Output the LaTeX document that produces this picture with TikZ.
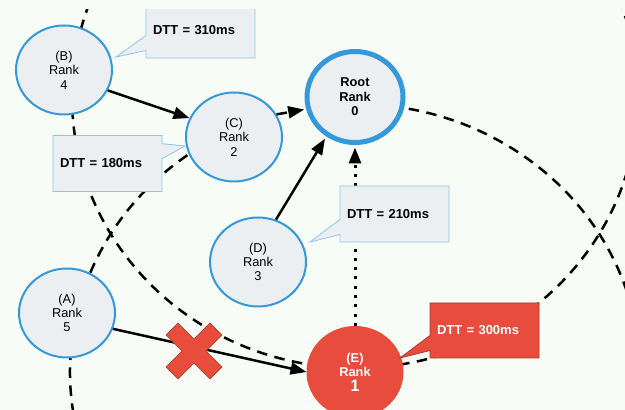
\documentclass[tikz,border=0pt]{standalone}
\usepackage{fontspec}
\setmainfont{Liberation Sans}
\usetikzlibrary{shapes.geometric,shapes.callouts,arrows.meta}

\definecolor{paper}{HTML}{F7FDF6}
\definecolor{cloud}{HTML}{ECEFF2}
\definecolor{rankblue}{HTML}{3498DB}
\definecolor{tipblue}{HTML}{8CC4EC}
\definecolor{alarm}{HTML}{E74C3C}
\definecolor{alarmdark}{HTML}{B03A2E}

\begin{document}
\begin{tikzpicture}[x=1pt,y=1pt,
  rank/.style={ellipse, draw=rankblue, line width=2pt, fill=cloud,
    minimum width=96pt, minimum height=89pt, inner sep=0pt, align=center,
    font=\fontsize{12.8}{14.4}\selectfont},
  rootrank/.style={rank, line width=5pt, minimum width=96pt, minimum height=91pt,
    font=\bfseries\fontsize{12.8}{14.5}\selectfont},
  failrank/.style={rank, draw=alarm, fill=alarm, line width=1pt,
    minimum width=96pt, minimum height=91pt, text=white,
    font=\bfseries\fontsize{12.8}{14.5}\selectfont},
  orbit/.style={line width=2.5pt, dash pattern=on 10.5pt off 7.5pt},
  link/.style={line width=2.5pt, -{Triangle[length=16pt,width=12pt]}},
  dtt/.style={rectangle callout, callout pointer width=15pt, fill=cloud,
    draw=tipblue, line width=0.8pt, minimum width=109pt, minimum height=56pt,
    text width=95pt, inner xsep=7pt, align=left,
    font=\bfseries\fontsize{13}{15}\selectfont},
  dttalert/.style={dtt, fill=alarm, draw=alarmdark, text=white},
]
\fill[paper] (0,0) rectangle (625,410);
\useasboundingbox (0,0) rectangle (625,410);

\begin{scope}
\clip (0,0) rectangle (625,400);
\coordinate (rootC) at (355,313);
\coordinate (eC) at (355,38);

% reach of the root
\draw[orbit] (rootC) ellipse [x radius=283pt, y radius=271pt];
% reach of rank 1
\draw[orbit] (eC) ++(115:285pt and 268pt)
  arc[start angle=115, end angle=195, x radius=285pt, y radius=268pt];
\draw[orbit] (eC) ++(90:285pt and 268pt)
  arc[start angle=90, end angle=5, x radius=285pt, y radius=268pt];

% ranks
\node[rank] (B) at (64,340) {(B)\\Rank\\4};
\node[rank] (C) at (234,273) {(C)\\Rank\\2};
\node[rootrank] (Root) at (rootC) {Root\\Rank\\0};
\node[rank] (D) at (258,148) {(D)\\Rank\\3};
\node[rank] (A) at (67,97) {(A)\\Rank\\5};
\node[failrank] (E) at (eC) {(E)\\Rank\\{\fontsize{16.5}{16}\selectfont 1}};

% links
\draw[link] (B.-25) -- (C.157);
\draw[link, dash pattern=on 10.5pt off 7.5pt, shorten >=2pt] (C.28) -- (Root.194);
\draw[link, shorten >=2.5pt] (D.67) -- (Root.234);
\draw[link, line width=3pt, dash pattern=on 3pt off 6.3pt, shorten >=2.5pt]
  (E.north) -- (Root.south);
\draw[link] (A.-19) -- (E.180);

% transfer times
\coordinate (t310) at (116,353);
\coordinate (t180) at (185,264);
\coordinate (t210) at (310,168);
\coordinate (t300) at (400,52);
\node[dtt, callout absolute pointer={(t310)}] (dtt310) at (200.5,380) {DTT = 310ms};
\node[dtt, callout absolute pointer={(t180)}] (dtt180) at (107.5,246.5) {DTT = 180ms};
\node[dtt, callout absolute pointer={(t210)}] (dtt210) at (394.5,196) {DTT = 210ms};
\node[dttalert, callout absolute pointer={(t300)}, minimum height=55pt] (dtt300) at (484.5,79.5) {DTT = 300ms};

% broken link mark
\filldraw[fill=alarm, draw=alarmdark, line width=0.6pt, shift={(194,59)}, rotate=45]
  (8.5,8.5) -- (31,8.5) -- (31,-8.5) -- (8.5,-8.5) -- (8.5,-31) -- (-8.5,-31)
  -- (-8.5,-8.5) -- (-31,-8.5) -- (-31,8.5) -- (-8.5,8.5) -- (-8.5,31)
  -- (8.5,31) -- cycle;
\end{scope}
\end{tikzpicture}
\end{document}
